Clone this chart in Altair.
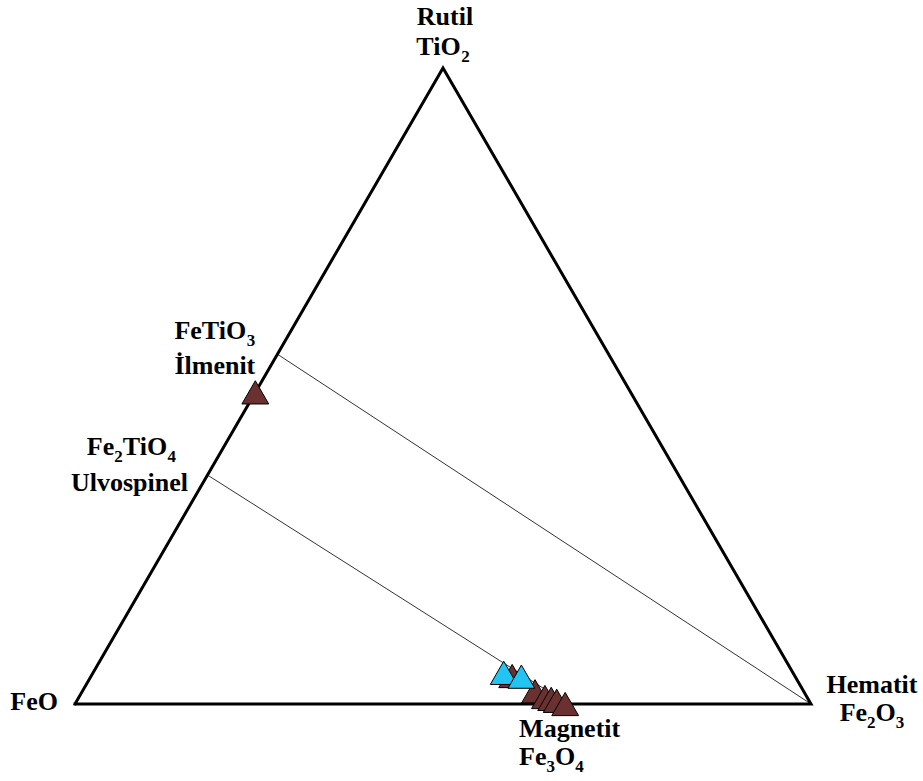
import altair as alt
import pandas as pd

# ---- Ternary system FeO - TiO2 - Fe2O3 (fractions of FeO, TiO2, Fe2O3) ----
corner_feo = [1.0, 0.0, 0.0, 1.0]
corner_tio2 = [0.0, 1.0, 0.0, 0.0]
corner_fe2o3 = [0.0, 0.0, 1.0, 0.0]

# Solid-solution tie lines (start on the FeO-TiO2 join)
tie_names = ["ilm-hem", "ilm-hem", "usp-mag", "usp-mag"]
tie_feo = [0.45, 0.0, 0.64, 0.33]
tie_tio2 = [0.55, 0.0, 0.36, 0.0]
tie_fe2o3 = [0.0, 1.0, 0.0, 0.67]

# Analysed oxide grains
brown_feo = [0.51, 0.384, 0.365, 0.356, 0.349, 0.343, 0.334]
brown_tio2 = [0.49, 0.044, 0.020, 0.011, 0.008, 0.005, 0.0]
brown_fe2o3 = [0.0, 0.572, 0.615, 0.633, 0.643, 0.652, 0.666]

blue_feo = [0.393, 0.372]
blue_tio2 = [0.049, 0.043]
blue_fe2o3 = [0.558, 0.585]

# Phase names and formulas (formula parts: text, is_subscript)
rutile_name, rutile_formula = "Rutil", [("TiO", 0), ("2", 1)]
wustite_name = "FeO"
hematite_name, hematite_formula = "Hematit", [("Fe", 0), ("2", 1), ("O", 0), ("3", 1)]
ilmenite_name, ilmenite_formula = "İlmenit", [("FeTiO", 0), ("3", 1)]
ulvo_name, ulvo_formula = "Ulvospinel", [("Fe", 0), ("2", 1), ("TiO", 0), ("4", 1)]
magnetite_name, magnetite_formula = "Magnetit", [("Fe", 0), ("3", 1), ("O", 0), ("4", 1)]

# ---- geometry helpers ----
W, H = 736, 636


def to_xy(feo, tio2, fe2o3):
    s = feo + tio2 + fe2o3
    t, f = tio2 / s, fe2o3 / s
    return f + t / 2.0, t


def frame(feo, tio2, fe2o3, **extra):
    rows = []
    for i, (a, b, c) in enumerate(zip(feo, tio2, fe2o3)):
        x, y = to_xy(a, b, c)
        row = {"x": x, "y": y, "order": i}
        for k, v in extra.items():
            row[k] = v[i]
        rows.append(row)
    return pd.DataFrame(rows)


# Times-style bold advance widths (per 1000 em) for laying out formula pieces
ADV = {"F": 611, "e": 444, "T": 667, "i": 278, "O": 778, "R": 722, "u": 556,
       "t": 333, "l": 278, "H": 778, "m": 833, "a": 500, "M": 944, "g": 500,
       "n": 556, "İ": 389, "U": 722, "v": 500, "o": 500, "s": 389, "p": 556}
MAIN, SUB, SUB_DROP = 26, 17, 7


def text_width(s, size):
    return sum(ADV.get(c, 500) for c in s) / 1000.0 * size


def place(anchor, segments, align, dx, dy):
    ax, ay = anchor
    widths = [text_width(t, SUB if sub else MAIN) for t, sub in segments]
    total = sum(widths)
    cursor = dx - {"left": 0.0, "center": total / 2.0, "right": total}[align]
    rows = []
    for (t, sub), w in zip(segments, widths):
        rows.append({
            "x": ax + cursor / W,
            "y": ay - (dy + (SUB_DROP if sub else 0)) / H,
            "text": t,
            "sub": sub,
        })
        cursor += w
    return rows


apex = to_xy(0, 1, 0)
left = to_xy(1, 0, 0)
right = to_xy(0, 0, 1)
ilm_pt = to_xy(tie_feo[0], tie_tio2[0], tie_fe2o3[0])
usp_pt = to_xy(tie_feo[2], tie_tio2[2], tie_fe2o3[2])
mag_pt = to_xy(tie_feo[3], tie_tio2[3], tie_fe2o3[3])

label_rows = []
label_rows += place(apex, [(rutile_name, 0)], "center", 2, -43)
label_rows += place(apex, rutile_formula, "center", 0, -13)
label_rows += place(left, [(wustite_name, 0)], "right", -17, 6)
label_rows += place(right, [(hematite_name, 0)], "center", 61, -11)
label_rows += place(right, hematite_formula, "center", 61, 17)
label_rows += place(ilm_pt, ilmenite_formula, "left", -103, -15)
label_rows += place(ilm_pt, [(ilmenite_name, 0)], "left", -103, 20)
label_rows += place(usp_pt, ulvo_formula, "center", -76, -20)
label_rows += place(usp_pt, [(ulvo_name, 0)], "center", -78, 16)
label_rows += place(mag_pt, [(magnetite_name, 0)], "left", -49, 33)
label_rows += place(mag_pt, magnetite_formula, "left", -49, 61)
labels = pd.DataFrame(label_rows)

# ---- chart ----
xs = alt.Scale(domain=[0, 1], nice=False, zero=False)
ys = alt.Scale(domain=[0, 1], nice=False, zero=False)
X = alt.X("x:Q", scale=xs, axis=None)
Y = alt.Y("y:Q", scale=ys, axis=None)

outline = alt.Chart(frame(corner_feo, corner_tio2, corner_fe2o3)).mark_line(
    color="black", strokeWidth=3, strokeJoin="miter", strokeCap="square"
).encode(x=X, y=Y, order="order:Q")

ties = alt.Chart(frame(tie_feo, tie_tio2, tie_fe2o3, name=tie_names)).mark_line(
    color="#333333", strokeWidth=1
).encode(x=X, y=Y, detail="name:N", order="order:Q")

brown = alt.Chart(frame(brown_feo, brown_tio2, brown_fe2o3)).mark_point(
    shape="triangle-up", filled=True, size=720, fill="#6b3030",
    stroke="black", strokeWidth=1, opacity=1
).encode(x=X, y=Y)

blue = alt.Chart(frame(blue_feo, blue_tio2, blue_fe2o3)).mark_point(
    shape="triangle-up", filled=True, size=720, fill="#22c4f2",
    stroke="black", strokeWidth=1, opacity=1
).encode(x=X, y=Y)

text_main = alt.Chart(labels[labels["sub"] == 0]).mark_text(
    font="Liberation Serif", fontWeight="bold", fontSize=MAIN,
    align="left", baseline="alphabetic", color="black"
).encode(x=X, y=Y, text="text:N")

text_sub = alt.Chart(labels[labels["sub"] == 1]).mark_text(
    font="Liberation Serif", fontWeight="bold", fontSize=SUB,
    align="left", baseline="alphabetic", color="black"
).encode(x=X, y=Y, text="text:N")

chart = alt.layer(ties, outline, brown, blue, text_main, text_sub).properties(
    width=W, height=H,
    padding={"left": 75, "top": 68, "right": 112, "bottom": 77},
    autosize="none",
    background="white",
).configure_view(stroke=None)

chart.save("out.html", embed_options={"renderer": "svg", "actions": False})
